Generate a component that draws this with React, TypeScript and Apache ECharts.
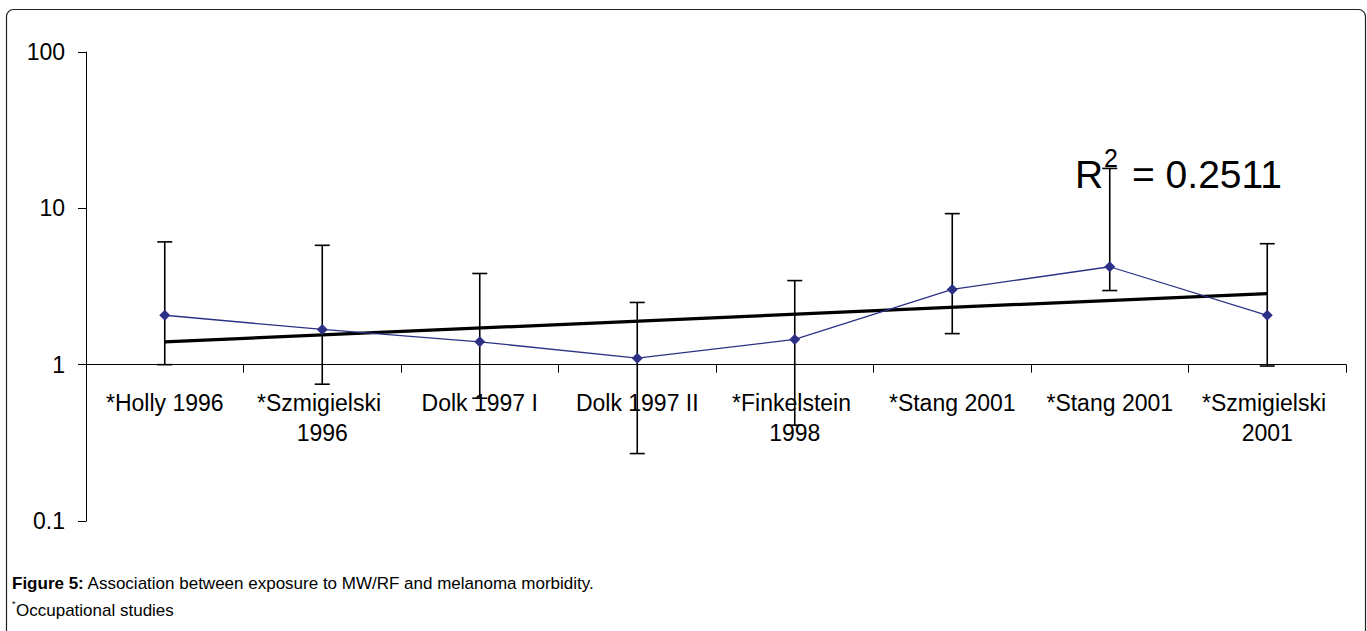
import React, { useEffect, useRef } from "react";
import * as echarts from "echarts";

const categories = [
  "*Holly 1996",
  "*Szmigielski 1996",
  "Dolk 1997 I",
  "Dolk 1997 II",
  "*Finkelstein 1998",
  "*Stang 2001",
  "*Stang 2001",
  "*Szmigielski 2001",
];
const riskRatio = [2.07, 1.68, 1.4, 1.1, 1.45, 3.03, 4.23, 2.07];
const ciLower = [1.0, 0.75, 0.61, 0.27, 0.41, 1.58, 2.98, 0.98];
const ciUpper = [6.1, 5.8, 3.83, 2.5, 3.45, 9.25, 18, 5.94];
const trendStart = 1.4;
const trendEnd = 2.85;
const rSquared = "0.2511";
const captionTitle = "Figure 5:";
const captionText = "Association between exposure to MW/RF and melanoma morbidity.";
const footnote = "Occupational studies";

const FONT = "'Liberation Sans', Arial, sans-serif";
const NAVY = "#2D3185";
const CAP = 17;

export default function App() {
  const ref = useRef<HTMLDivElement>(null);
  useEffect(() => {
    if (!ref.current) return;
    const chart = echarts.init(ref.current, undefined, { renderer: "svg" });
    const errorData = categories.map((_, i) => [i, ciLower[i], ciUpper[i]]);
    chart.setOption({
      animation: false,
      backgroundColor: "#fff",
      textStyle: { fontFamily: FONT, color: "#000" },
      grid: { left: 86, right: 21, top: 52, bottom: 110, containLabel: false },
      xAxis: {
        type: "category",
        data: categories,
        boundaryGap: true,
        position: "bottom",
        offset: -156.33,
        axisLine: { onZero: false, lineStyle: { color: "#000", width: 1 } },
        axisTick: { show: true, length: 8, inside: false, alignWithLabel: false, lineStyle: { color: "#000", width: 1 } },
        axisLabel: {
          interval: 0,
          fontSize: 23,
          lineHeight: 30,
          color: "#000",
          fontFamily: FONT,
          margin: 23,
          width: 155,
          overflow: "break",
        },
        splitLine: { show: false },
      },
      yAxis: {
        type: "log",
        logBase: 10,
        min: 0.1,
        max: 100,
        axisLine: { show: true, lineStyle: { color: "#000", width: 1 } },
        axisTick: { show: true, length: 8, lineStyle: { color: "#000", width: 1 } },
        minorTick: { show: false },
        splitLine: { show: false },
        axisLabel: {
          fontSize: 23,
          color: "#000",
          fontFamily: FONT,
          margin: 21,
          formatter: (v: number) => String(Number(v.toPrecision(3))),
        },
      },
      series: [
        {
          type: "custom",
          name: "CI",
          z: 2,
          data: errorData,
          encode: { x: 0, y: [1, 2] },
          renderItem: (params: any, api: any) => {
            const x = api.value(0);
            const lo = api.coord([x, api.value(1)]);
            const hi = api.coord([x, api.value(2)]);
            const half = 7.5;
            const st = { stroke: "#000", lineWidth: 1.6 };
            return {
              type: "group",
              children: [
                { type: "line", shape: { x1: lo[0], y1: lo[1], x2: hi[0], y2: hi[1] }, style: st },
                { type: "line", shape: { x1: lo[0] - half, y1: lo[1], x2: lo[0] + half, y2: lo[1] }, style: st },
                { type: "line", shape: { x1: hi[0] - half, y1: hi[1], x2: hi[0] + half, y2: hi[1] }, style: st },
              ],
            };
          },
        },
        {
          type: "line",
          name: "Trend",
          z: 3,
          data: [
            [0, trendStart],
            [categories.length - 1, trendEnd],
          ],
          symbol: "none",
          lineStyle: { color: "#000", width: 3.2 },
        },
        {
          type: "line",
          name: "RR",
          z: 4,
          data: riskRatio,
          symbol: "diamond",
          symbolSize: 11,
          itemStyle: { color: NAVY },
          lineStyle: { color: NAVY, width: 1.3 },
        },
      ],
      graphic: [
        {
          type: "rect",
          shape: { x: 6.5, y: 9.5, width: 1359, height: 630, r: 7 },
          style: { fill: "none", stroke: "#222", lineWidth: 1.2 },
          silent: true,
        },
        {
          type: "text",
          x: 1075,
          y: 174,
          style: { text: "R", fontSize: 39, fontFamily: FONT, fill: "#000", align: "left", verticalAlign: "middle" },
          z: 10,
        },
        {
          type: "text",
          x: 1104,
          y: 157.5,
          style: { text: "2", fontSize: 25, fontFamily: FONT, fill: "#000", align: "left", verticalAlign: "middle" },
          z: 10,
        },
        {
          type: "text",
          x: 1132,
          y: 174,
          style: { text: "= " + rSquared, fontSize: 39, fontFamily: FONT, fill: "#000", align: "left", verticalAlign: "middle" },
          z: 10,
        },
        {
          type: "text",
          x: 12,
          y: 583,
          style: {
            text: "{b|" + captionTitle + "} " + captionText,
            rich: { b: { fontWeight: "bold", fontSize: CAP, fontFamily: FONT, fill: "#000" } },
            fontSize: CAP,
            fontFamily: FONT,
            fill: "#000",
            align: "left",
            verticalAlign: "middle",
          },
        },
        {
          type: "text",
          x: 12,
          y: 604,
          style: { text: "*", fontSize: 9, fontFamily: FONT, fill: "#000", align: "left", verticalAlign: "middle" },
        },
        {
          type: "text",
          x: 16,
          y: 610,
          style: { text: footnote, fontSize: CAP, fontFamily: FONT, fill: "#000", align: "left", verticalAlign: "middle" },
        },
      ],
    });
    return () => chart.dispose();
  }, []);
  return (
    <div
      ref={ref}
      style={{ position: "absolute", left: 0, top: 0, width: 1367, height: 631, background: "#fff" }}
    />
  );
}
